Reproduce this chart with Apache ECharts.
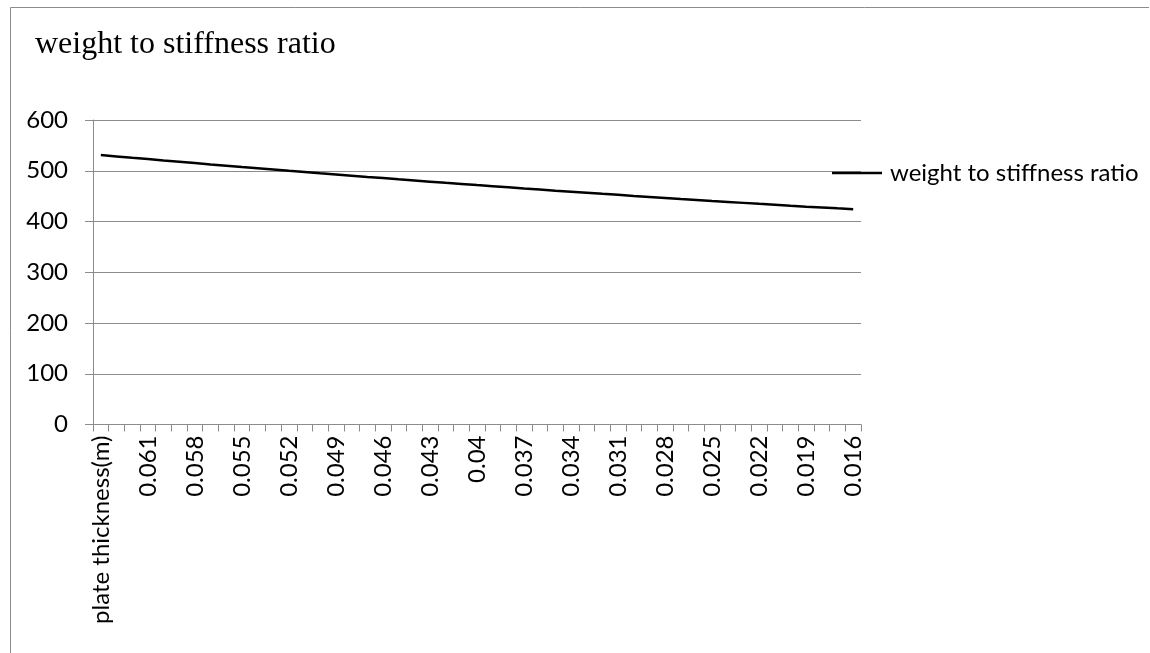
<!DOCTYPE html>
<html>
<head>
<meta charset="utf-8">
<title>weight to stiffness ratio</title>
<script src="https://cdn.jsdelivr.net/npm/echarts@6/dist/echarts.min.js"></script>
<style>
  html, body { margin: 0; padding: 0; background: #ffffff; }
  #chart { width: 1150px; height: 653px; }
</style>
</head>
<body>
<div id="chart"></div>
<script>
// Category labels: the sheet header cell followed by plate thicknesses in metres
const categories = [
  'plate thickness(m)',
  '0.063', '0.062', '0.061', '0.06', '0.059', '0.058', '0.057', '0.056',
  '0.055', '0.054', '0.053', '0.052', '0.051', '0.05', '0.049', '0.048',
  '0.047', '0.046', '0.045', '0.044', '0.043', '0.042', '0.041', '0.04',
  '0.039', '0.038', '0.037', '0.036', '0.035', '0.034', '0.033', '0.032',
  '0.031', '0.03', '0.029', '0.028', '0.027', '0.026', '0.025', '0.024',
  '0.023', '0.022', '0.021', '0.02', '0.019', '0.018', '0.017', '0.016'
];

// Weight to stiffness ratio for each category
const ratioValues = [
  531.0, 528.3, 525.6, 523.0, 520.3, 517.7, 515.1, 512.5, 510.0,
  507.4, 504.9, 502.4, 499.9, 497.5, 495.0, 492.6, 490.2, 487.8,
  485.5, 483.1, 480.8, 478.5, 476.2, 474.0, 471.7, 469.5, 467.3,
  465.1, 463.0, 460.8, 458.7, 456.6, 454.5, 452.5, 450.4, 448.4,
  446.4, 444.4, 442.5, 440.5, 438.6, 436.7, 434.8, 433.0, 431.1,
  429.3, 427.6, 425.9, 424.3
];

const yTicks = { min: 0, max: 600, interval: 100 };

const seriesName = 'weight to stiffness ratio';
const labelFont = 'Lato, "Open Sans", sans-serif';
const labelSize = 24;
const gridColor = '#8c8c8c';

const chart = echarts.init(document.getElementById('chart'), null, { renderer: 'canvas' });

chart.setOption({
  backgroundColor: '#ffffff',
  animation: false,
  title: {
    text: 'weight to stiffness ratio',
    left: 35,
    top: 29,
    padding: 0,
    textStyle: {
      fontFamily: '"Liberation Serif", "DejaVu Serif", serif',
      fontSize: 32,
      fontWeight: 'normal',
      color: '#000000'
    }
  },
  legend: {
    data: [seriesName],
    left: 832,
    top: 161,
    padding: 0,
    icon: 'rect',
    itemWidth: 50,
    itemHeight: 2.5,
    textStyle: {
      fontFamily: labelFont,
      fontSize: labelSize,
      color: '#000000',
      padding: [0, 0, 0, 3]
    }
  },
  grid: {
    left: 93,
    right: 289,
    top: 120,
    bottom: 228.5,
    containLabel: false
  },
  xAxis: {
    type: 'category',
    data: categories,
    boundaryGap: true,
    axisLine: { lineStyle: { color: gridColor, width: 1 } },
    axisTick: {
      show: true,
      interval: 0,
      alignWithLabel: false,
      length: 7,
      lineStyle: { color: gridColor, width: 1 }
    },
    axisLabel: {
      interval: 2,
      rotate: 90,
      margin: 11,
      fontFamily: labelFont,
      fontSize: labelSize,
      color: '#000000'
    },
    splitLine: { show: false }
  },
  yAxis: {
    type: 'value',
    min: yTicks.min,
    max: yTicks.max,
    interval: yTicks.interval,
    axisLine: { show: true, lineStyle: { color: gridColor, width: 1 } },
    axisTick: { show: true, length: 8, lineStyle: { color: gridColor, width: 1 } },
    axisLabel: {
      margin: 25,
      fontFamily: labelFont,
      fontSize: labelSize,
      color: '#000000'
    },
    splitLine: { show: true, lineStyle: { color: gridColor, width: 1 } }
  },
  series: [
    {
      name: seriesName,
      type: 'line',
      data: ratioValues,
      symbol: 'none',
      smooth: false,
      lineStyle: { color: '#000000', width: 2.5 },
      itemStyle: { color: '#000000' }
    }
  ],
  graphic: [
    {
      type: 'polyline',
      silent: true,
      shape: { points: [[10.5, 653], [10.5, 7.5], [1149, 7.5]] },
      style: { stroke: '#8c8c8c', lineWidth: 1, fill: null }
    }
  ]
});
</script>
</body>
</html>
